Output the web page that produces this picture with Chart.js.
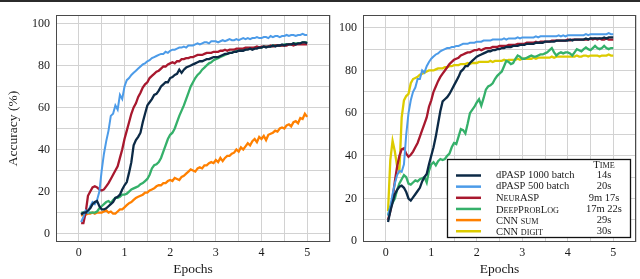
<!DOCTYPE html>
<html>
<head>
<meta charset="utf-8">
<script src="https://cdn.jsdelivr.net/npm/chart.js@4.4.1/dist/chart.umd.min.js"></script>
<style>
    html, body { margin: 0; padding: 0; background: #fff; }
    body { width: 640px; height: 279px; position: relative; overflow: hidden; }
    #topbar { position: absolute; left: 0; top: 0; width: 640px; height: 2px; background: #2b2b2b; }
    #wrap-sum { position: absolute; left: 0; top: 0; width: 335px; height: 279px; }
    #wrap-digit { position: absolute; left: 335px; top: 0; width: 305px; height: 279px; }
</style>
</head>
<body>
<div id="topbar"></div>
<div id="wrap-sum"><canvas id="chart-sum"></canvas></div>
<div id="wrap-digit"><canvas id="chart-digit"></canvas></div>
<script>
const epochs = [
    0.05, 0.1, 0.15, 0.2, 0.25, 0.3, 0.35, 0.4, 0.45, 0.5,
    0.55, 0.6, 0.65, 0.7, 0.75, 0.8, 0.85, 0.9, 0.95, 1,
    1.05, 1.1, 1.15, 1.2, 1.25, 1.3, 1.35, 1.4, 1.45, 1.5,
    1.55, 1.6, 1.65, 1.7, 1.75, 1.8, 1.85, 1.9, 1.95, 2,
    2.05, 2.1, 2.15, 2.2, 2.25, 2.3, 2.35, 2.4, 2.45, 2.5,
    2.55, 2.6, 2.65, 2.7, 2.75, 2.8, 2.85, 2.9, 2.95, 3,
    3.05, 3.1, 3.15, 3.2, 3.25, 3.3, 3.35, 3.4, 3.45, 3.5,
    3.55, 3.6, 3.65, 3.7, 3.75, 3.8, 3.85, 3.9, 3.95, 4,
    4.05, 4.1, 4.15, 4.2, 4.25, 4.3, 4.35, 4.4, 4.45, 4.5,
    4.55, 4.6, 4.65, 4.7, 4.75, 4.8, 4.85, 4.9, 4.95, 5
];

const seriesNames = ['dPASP 1000 batch', 'dPASP 500 batch', 'NeurASP', 'DeepProbLog', 'CNN sum', 'CNN digit'];
const smallCaps = [false, false, true, true, true, true];
const trainTimes = ['14s', '20s', '9m 17s', '17m 22s', '29s', '30s'];
const colors = ['#0c2a46', '#4c9be8', '#a8182e', '#35b06a', '#ff8000', '#dccb00'];

const xGrid = [-0.5, 0, 0.5, 1, 1.5, 2, 2.5, 3, 3.5, 4, 4.5, 5, 5.5];
const xLabels = [0, 1, 2, 3, 4, 5];
const yGrid = [0, 10, 20, 30, 40, 50, 60, 70, 80, 90, 100];
const yLabels = [0, 20, 40, 60, 80, 100];

// left panel: sum accuracy
const sumNavy = [
    9, 10, 10, 11, 12, 14, 15, 15.5, 13, 11.5,
    11.5, 12, 13, 14, 15, 17, 17.5, 18.5, 21, 23,
    24.5, 29, 34, 42, 44.5, 46, 48, 53, 57, 61,
    62.5, 64, 66, 66.5, 68, 70, 71, 72, 72, 74,
    74.5, 75.5, 76, 78, 76.5, 78, 79, 79.5, 80, 80.5,
    81, 81.5, 82, 82, 82.5, 83, 83, 83.5, 84, 84,
    84, 84.5, 85, 85.5, 85.5, 86, 86, 86.5, 86.5, 87,
    87, 87, 87.5, 87.5, 88, 87.5, 88, 88, 88.5, 88.5,
    89, 88.5, 89, 89, 89.5, 89, 89.5, 89.5, 90, 89.5,
    90, 90, 90, 90.5, 90, 90.5, 90.5, 91, 91, 90.5
];
const sumBlue = [
    5.5, 8, 11, 10, 13, 15, 14, 16, 20, 30,
    38, 44, 49, 56, 57, 61, 59, 66, 64, 70,
    73, 74, 75.5, 76.5, 77.5, 78.5, 79.5, 80.5, 81, 82,
    82.5, 83.5, 84, 84.5, 85, 85.5, 85.5, 86.5, 86, 87,
    87.5, 87.5, 88, 88.5, 88.5, 89, 88.5, 89.5, 89.5, 89.5,
    90, 90.5, 90, 90.5, 91, 91, 90.5, 91.5, 91.5, 91.5,
    91, 91.5, 92, 91.5, 92, 92.5, 92, 92, 92.5, 92,
    92.5, 93, 92.5, 93, 92.5, 93, 93, 93.5, 93, 93,
    93.5, 93.5, 93, 94, 93.5, 94, 94, 93.5, 94, 94,
    94.5, 94, 94.5, 94.5, 94, 94.5, 94.5, 95, 94.5, 94.5
];
const sumRed = [
    5, 5, 10, 18, 20, 22, 22.5, 22, 21, 20.5,
    21, 22.5, 24, 26, 28, 30, 32, 36, 40, 45,
    49, 53, 57, 60, 62, 65, 67, 69.5, 71, 72,
    74, 75, 76, 77, 77.5, 78.5, 79.5, 79.5, 80.5, 81,
    81.5, 81, 82, 82, 83, 83, 83.5, 83.5, 84, 84,
    84.5, 85, 85, 85, 85.5, 86, 86, 86, 86.5, 86.5,
    86.5, 87, 87, 87.5, 87, 87.5, 87.5, 87.5, 88, 88,
    88, 88, 88.5, 88.5, 88.5, 88.5, 88.5, 89, 88.5, 89,
    89, 89, 89, 89.5, 89, 89.5, 89.5, 89.5, 89.5, 89.5,
    89.5, 90, 90, 89.5, 90, 90, 90, 90, 90, 90
];
const sumGreen = [
    10, 10, 10, 10, 10, 10, 10, 10.5, 12, 13,
    14, 15, 15.5, 14.5, 16, 17, 17, 17.5, 18.5, 18.5,
    19, 20, 21, 21.5, 22, 22.5, 23.5, 24, 25, 26,
    28, 31, 32.5, 33, 34, 36, 39, 42, 45, 47,
    48, 50, 53, 56, 58.5, 61, 64, 67, 70, 72,
    74, 75.5, 76.5, 78, 79, 80, 81, 81.5, 82.5, 83,
    83.5, 84, 84.5, 85, 85.5, 86, 86, 86.5, 87, 87,
    87.5, 87.5, 87.5, 88, 88, 88, 88.5, 88.5, 88.5, 88.5,
    89, 89, 89, 89, 89.5, 89.5, 89.5, 89.5, 89.5, 90,
    90, 90, 90, 90.5, 90.5, 90.5, 90.5, 91, 91, 91
];
const sumOrange = [
    8.5, 9, 9, 9.5, 9.5, 10, 9.5, 10, 10, 10,
    10.5, 11, 10, 10.5, 9.5, 9.5, 10.5, 11.5, 11.5, 12.5,
    13.5, 14.5, 15, 16, 17, 17.5, 18, 18.5, 19.5, 19.5,
    20.5, 21, 21.5, 22.5, 23, 23, 24, 24, 25, 25.5,
    25, 26.5, 26, 25.5, 27, 27.5, 28.5, 29.5, 30.5, 30,
    29.5, 31, 31.5, 31, 32.5, 32.5, 33.5, 34, 33.5, 35,
    34, 36, 34.5, 36, 37, 37, 38, 38.5, 40, 39,
    41, 40, 41.5, 43, 42, 44, 45, 43.5, 46, 45,
    46.5, 44.5, 47, 47.5, 48, 49, 48.5, 50, 50.5, 50,
    51.5, 52, 51, 53, 53.5, 52.5, 55, 54.5, 57, 55.5
];

// right panel: digit accuracy
const digitNavy = [
    9, 14, 18, 22, 24, 25.5, 26, 25, 23, 20,
    19, 20.5, 22, 23.5, 25, 28, 30, 31.5, 36, 40,
    44, 49, 55, 61, 65.5, 66.5, 67.5, 69, 71, 73,
    75, 77, 79.5, 80.5, 82, 82, 83.5, 84.5, 85.5, 86.5,
    87, 87.5, 88, 88.5, 89, 89, 89.5, 89.5, 90, 90,
    90.5, 90.5, 91, 91, 91, 91.5, 91.5, 91.5, 92, 92,
    92, 92.5, 92.5, 92.5, 92.5, 93, 93, 93, 93, 93.5,
    93.5, 93.5, 93.5, 93.5, 94, 94, 94, 94, 94, 94,
    94.5, 94, 94.5, 94.5, 94.5, 94.5, 94.5, 95, 94.5, 95,
    95, 95, 95, 95, 95, 95.5, 95, 95.5, 95.5, 95.5
];
const digitBlue = [
    12, 16, 22, 27, 31, 33, 32.5, 36, 50, 60,
    66, 70, 72, 76, 76, 80, 79, 82, 84, 85.5,
    86.5, 87.5, 88, 89, 89.5, 90, 90.5, 90.5, 91, 91,
    91.5, 91.5, 92, 92.5, 92.5, 92.5, 93, 93, 93, 93.5,
    93.5, 93.5, 94, 94, 94, 94, 94.5, 94.5, 94.5, 94.5,
    94.5, 95, 94.5, 95, 95, 95, 95, 95.5, 95, 95.5,
    95.5, 95.5, 95.5, 95.5, 95.5, 96, 95.5, 96, 96, 96,
    96, 96, 96, 96, 96, 96.5, 96, 96.5, 96, 96.5,
    96.5, 96.5, 96.5, 96.5, 96.5, 96.5, 96.5, 97, 96.5, 97,
    97, 97, 97, 97, 97, 97, 97, 97.5, 97, 97
];
const digitRed = [
    10, 14, 20, 28, 35, 40, 43, 43.5, 41, 39.5,
    40.5, 42, 44, 46, 49, 52, 55, 58, 63, 66,
    70, 72.5, 75, 77, 78.5, 80, 81.5, 83, 84, 85,
    85.5, 86, 87, 87.5, 88, 88.5, 88.5, 89, 89.5, 89.5,
    90, 89.5, 90, 90.5, 90.5, 90.5, 91, 91, 91, 91.5,
    91.5, 91.5, 91.5, 92, 92, 92, 92, 92.5, 92.5, 92.5,
    92.5, 93, 93, 93, 93, 93.5, 93, 93.5, 93.5, 93.5,
    93.5, 93.5, 94, 94, 94, 94, 94, 94, 94, 94.5,
    94, 94.5, 94.5, 94.5, 94.5, 94.5, 94.5, 94.5, 94.5, 95,
    94.5, 95, 94.5, 95, 94.5, 94.5, 95, 94.5, 94.5, 94.5
];
const digitGreen = [
    12, 16, 18, 20, 24, 27, 29, 31, 30, 27,
    26.5, 27.5, 28.5, 28, 29, 29.5, 30, 27.5, 33, 36,
    37, 35.5, 37.5, 38.5, 38, 38.5, 40, 41, 44, 46,
    45.5, 49, 52.5, 52, 50.5, 55, 60, 61.5, 63, 65,
    66.5, 63.5, 67, 71, 72.5, 73, 74, 76, 77.5, 78.5,
    79.5, 82, 84.5, 84, 83, 83.5, 85.5, 87, 86.5, 85.5,
    85.5, 86, 86.5, 87, 86.5, 86.5, 87, 87.5, 87.5, 88,
    88.5, 89.5, 90.5, 88.5, 87, 88, 88.5, 88, 88.5, 88.5,
    88, 87, 88.5, 90, 89.5, 89, 90, 90.8, 90, 89.5,
    90.5, 91.5, 90.5, 90, 90.5, 91.5, 90.5, 90, 90.5, 90.5
];
const digitOrange = [];
const digitYellow = [
    14, 38, 47, 42, 35, 33, 58, 66, 68, 69,
    74, 76, 76.5, 77, 78, 78.5, 79, 79.5, 80, 80,
    80, 80.5, 81, 81, 81, 81.5, 81.5, 82, 82, 82.5,
    82.5, 82.5, 83, 83, 83, 83.5, 83, 83.5, 83.5, 83.5,
    84, 84, 84, 84, 84, 84.5, 84, 84.5, 84.5, 84.5,
    84.5, 85, 84.5, 85, 85, 85, 85, 85.5, 85, 85.5,
    85.5, 85.5, 85.5, 85.5, 86, 85.5, 86, 86, 86, 86,
    86, 86, 86.5, 86, 86.5, 86.5, 86.5, 86.5, 86.5, 86.5,
    86.5, 86.5, 86.5, 87, 86.5, 86.5, 87, 87, 86.5, 87,
    87, 87, 87, 86.5, 87, 87, 87, 87.5, 87, 87
];

const serif = "'Liberation Serif', 'DejaVu Serif', serif";
const ink = '#1a1a1a';

const toPoints = (ys) => ys.map((y, i) => ({ x: epochs[i], y }));

const makeDatasets = (series) => series.map((ys, i) => ({
    label: seriesNames[i],
    data: toPoints(ys),
    borderColor: colors[i],
    backgroundColor: colors[i],
    borderWidth: i === 1 ? 2 : 2.3,
    pointRadius: 0,
    tension: 0,
    fill: false
}));

// draw a label where lowercase letters become small capitals
const drawCaps = (ctx, text, x, y, size, align) => {
    const parts = [];
    for (const ch of text) {
        const low = ch !== ch.toUpperCase();
        const last = parts[parts.length - 1];
        if (last && last.low === low) last.s += ch; else parts.push({ low, s: ch });
    }
    const fontFor = p => (p.low ? size * 0.78 : size) + 'px ' + serif;
    let total = 0;
    parts.forEach(p => { ctx.font = fontFor(p); p.w = ctx.measureText(p.low ? p.s.toUpperCase() : p.s).width; total += p.w; });
    let cx = align === 'center' ? x - total / 2 : x;
    ctx.textAlign = 'left';
    ctx.textBaseline = 'alphabetic';
    parts.forEach(p => {
        ctx.font = fontFor(p);
        ctx.fillText(p.low ? p.s.toUpperCase() : p.s, cx, y + size * 0.35);
        cx += p.w;
    });
};

const framePlugin = {
    id: 'frame',
    afterDatasetsDraw(chart) {
        const { ctx, chartArea: a } = chart;
        ctx.save();
        ctx.strokeStyle = '#4a4a4a';
        ctx.lineWidth = 1;
        ctx.strokeRect(a.left + 0.5, a.top + 0.5, a.right - a.left - 1, a.bottom - a.top - 1);
        ctx.restore();
    }
};

const tableLegend = {
    id: 'tableLegend',
    afterDraw(chart) {
        const { ctx, chartArea: a } = chart;
        const w = 183, h = 78;
        const x0 = Math.round(a.right - 6 - w), y0 = Math.round(a.bottom - 5 - h);
        ctx.save();
        ctx.fillStyle = '#fff';
        ctx.fillRect(x0, y0, w, h);
        ctx.strokeStyle = '#111';
        ctx.lineWidth = 1.3;
        ctx.strokeRect(x0 + 0.5, y0 + 0.5, w, h);
        ctx.fillStyle = ink;
        drawCaps(ctx, 'Time', x0 + 157, y0 + 5, 10.5, 'center');
        chart.data.datasets.forEach((ds, i) => {
            const y = y0 + 16.5 + i * 11.15;
            ctx.strokeStyle = ds.borderColor;
            ctx.lineWidth = 2.5;
            ctx.beginPath();
            ctx.moveTo(x0 + 9, y);
            ctx.lineTo(x0 + 34, y);
            ctx.stroke();
            ctx.fillStyle = ink;
            if (smallCaps[i]) {
                drawCaps(ctx, seriesNames[i], x0 + 49, y, 10.5, 'left');
            } else {
                ctx.font = '10.5px ' + serif;
                ctx.textAlign = 'left';
                ctx.textBaseline = 'middle';
                ctx.fillText(seriesNames[i], x0 + 49, y);
            }
            ctx.font = '10.5px ' + serif;
            ctx.textAlign = 'center';
            ctx.textBaseline = 'middle';
            ctx.fillText(trainTimes[i], x0 + 157, y);
        });
        ctx.restore();
    }
};

const makeOptions = (yMin, yMax, yWidth, padRight, showYTitle) => ({
    responsive: true,
    maintainAspectRatio: false,
    animation: false,
    layout: { padding: { top: 15, right: padRight, left: 0, bottom: 0 } },
    plugins: { legend: { display: false }, tooltip: { enabled: false } },
    scales: {
        x: {
            type: 'linear', min: -0.5, max: 5.5,
            afterBuildTicks: s => { s.ticks = xGrid.map(v => ({ value: v })); },
            afterFit: s => { s.height = 37; },
            ticks: {
                autoSkip: false, maxRotation: 0, padding: 4, color: ink,
                font: { family: serif, size: 12 },
                callback: v => xLabels.includes(v) ? String(v) : ''
            },
            grid: { color: '#d2d2d2', lineWidth: 1, drawTicks: false },
            border: { display: false },
            title: { display: true, text: 'Epochs', color: ink, font: { family: serif, size: 13.5 }, padding: { top: 0, bottom: 1 } }
        },
        y: {
            min: yMin, max: yMax,
            afterBuildTicks: s => { s.ticks = yGrid.map(v => ({ value: v })); },
            afterFit: s => { s.width = yWidth; },
            ticks: {
                autoSkip: false, padding: 6, color: ink,
                font: { family: serif, size: 12 },
                callback: v => yLabels.includes(v) ? String(v) : ''
            },
            grid: { color: '#d2d2d2', lineWidth: 1, drawTicks: false },
            border: { display: false },
            title: { display: showYTitle, text: 'Accuracy (%)', color: ink, font: { family: serif, size: 13.5 }, padding: { top: 5, bottom: 0 } }
        }
    }
});

new Chart(document.getElementById('chart-sum'), {
    type: 'line',
    data: { datasets: makeDatasets([sumNavy, sumBlue, sumRed, sumGreen, sumOrange]) },
    options: makeOptions(-4, 104, 56, 5, true),
    plugins: [framePlugin]
});

new Chart(document.getElementById('chart-digit'), {
    type: 'line',
    data: { datasets: makeDatasets([digitNavy, digitBlue, digitRed, digitGreen, digitOrange, digitYellow]) },
    options: makeOptions(-0.4, 106, 28, 3, false),
    plugins: [framePlugin, tableLegend]
});
</script>
</body>
</html>
